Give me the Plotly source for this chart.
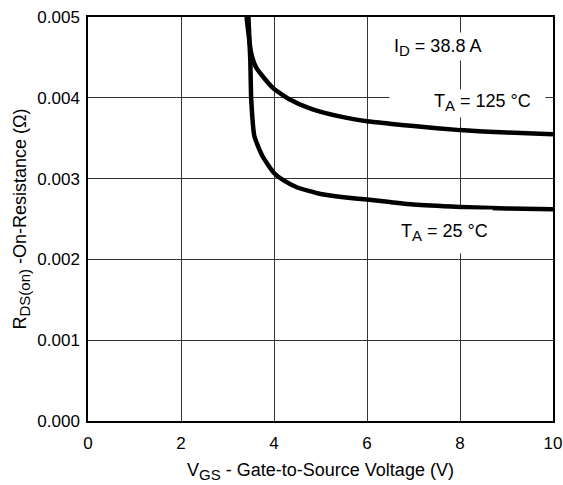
import plotly.graph_objects as go

# Data
vgs_125 = [3.41, 3.51, 3.62, 3.98, 4.34, 4.77, 5.41, 6.0, 6.49, 7.0, 8.0, 9.0, 10.0]
rds_125 = [0.00500, 0.00455, 0.00437, 0.00412, 0.00398, 0.00387, 0.00377, 0.00371, 0.00368, 0.00365, 0.00360, 0.00357, 0.00355]

vgs_25 = [3.45, 3.49, 3.51, 3.58, 3.76, 4.0, 4.2, 4.5, 5.0, 5.5, 6.0, 6.49, 7.0, 8.0, 9.0, 10.0]
rds_25 = [0.00500, 0.00447, 0.00398, 0.00352, 0.00327, 0.00307, 0.00298, 0.00289, 0.00281, 0.00277, 0.00274, 0.00271, 0.00268, 0.00265, 0.00263, 0.00262]

x_ticks = [0, 2, 4, 6, 8, 10]
y_ticks = [0.000, 0.001, 0.002, 0.003, 0.004, 0.005]
y_tick_text = ["0.000", "0.001", "0.002", "0.003", "0.004", "0.005"]

font_family = "Liberation Sans, Arial, sans-serif"
fs_tick = 17
fs = 18
sub = lambda s: '<sub><span style="font-size:15px">' + s + '</span></sub>'

fig = go.Figure()
for xs, ys in ((vgs_125, rds_125), (vgs_25, rds_25)):
    fig.add_trace(go.Scatter(x=xs, y=ys, mode="lines",
                             line=dict(color="black", width=4.5, shape="spline", smoothing=0.5),
                             showlegend=False, hoverinfo="skip"))

# white masks behind labels (gridlines are interrupted there in the reference)
masks = [
    (7.51, 0.00464, 95, 27),
    (8.155, 0.003934, 155, 27),
    (7.67, 0.002348, 94, 43),
]
for mx, my, mw, mh in masks:
    fig.add_annotation(x=mx, y=my, text=" ", showarrow=False, xanchor="center", yanchor="middle",
                       width=mw, height=mh, bgcolor="white", borderpad=0, font=dict(size=2))

labels = [
    (7.51, 0.00462, "I" + sub("D") + " = 38.8 A"),
    (8.49, 0.00394, "T" + sub("A") + " = 125 °C"),
    (7.67, 0.00233, "T" + sub("A") + " = 25 °C"),
]
for lx, ly, lt in labels:
    fig.add_annotation(x=lx, y=ly, text=lt, showarrow=False, xanchor="center", yanchor="middle",
                       font=dict(size=fs, color="black", family=font_family))

fig.update_xaxes(range=[0, 10], tickvals=x_ticks, ticks="", showgrid=True, gridcolor="#333", gridwidth=1,
                 showline=True, linecolor="black", linewidth=1.5, mirror=True, zeroline=False,
                 automargin=False, ticklabelstandoff=6,
                 title=dict(text="V" + sub("GS") + " - Gate-to-Source Voltage (V)", standoff=11,
                            font=dict(size=fs, family=font_family, color="black")),
                 tickfont=dict(size=fs_tick, family=font_family, color="black"))
fig.update_yaxes(range=[0, 0.005], tickvals=y_ticks, ticktext=y_tick_text, ticks="", showgrid=True,
                 gridcolor="#333", gridwidth=1,
                 showline=True, linecolor="black", linewidth=1.5, mirror=True, zeroline=False,
                 automargin=False, ticklabelstandoff=3,
                 title=dict(text="R" + sub("DS(on)") + " -On-Resistance (Ω)", standoff=6,
                            font=dict(size=fs, family=font_family, color="black")),
                 tickfont=dict(size=fs_tick, family=font_family, color="black"))

fig.update_layout(width=563, height=485, margin=dict(l=88, r=10, t=17, b=64),
                  paper_bgcolor="white", plot_bgcolor="white",
                  font=dict(family=font_family, color="black", size=fs))

fig.write_html("out.html", config={"displayModeBar": False},
               post_script="document.body.style.margin='0';document.body.style.overflow='hidden';")
